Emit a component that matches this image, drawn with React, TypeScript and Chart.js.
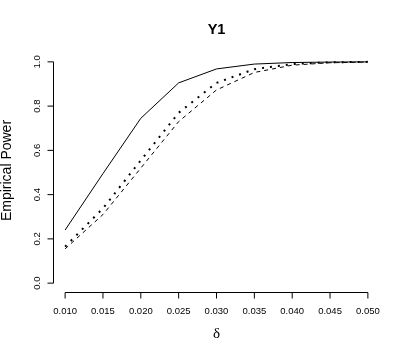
import React, { useEffect, useRef } from "react";
import { Chart, registerables } from "chart.js";

Chart.register(...registerables);

const deltas = [0.01, 0.015, 0.02, 0.025, 0.03, 0.035, 0.04, 0.045, 0.05];
const solidSeries = [0.24, 0.495, 0.745, 0.905, 0.968, 0.99, 0.997, 0.999, 1.0];
const dottedSeries = [0.165, 0.338, 0.555, 0.77, 0.905, 0.967, 0.99, 0.998, 1.0];
const dashedSeries = [0.155, 0.31, 0.52, 0.73, 0.873, 0.952, 0.985, 0.996, 0.999];
const xTicks = [0.01, 0.015, 0.02, 0.025, 0.03, 0.035, 0.04, 0.045, 0.05];
const xTickLabels = ["0.010", "0.015", "0.020", "0.025", "0.030", "0.035", "0.040", "0.045", "0.050"];
const yTicks = [0, 0.2, 0.4, 0.6, 0.8, 1.0];
const yTickLabels = ["0.0", "0.2", "0.4", "0.6", "0.8", "1.0"];
const titleText = "Y1";
const xTitle = "δ";
const yTitle = "Empirical Power";

const SANS = '"Liberation Sans", Arial, Helvetica, sans-serif';

const axesPlugin = {
  id: "rAxes",
  afterDraw(chart: any) {
    const ctx = chart.ctx as CanvasRenderingContext2D;
    const xs = chart.scales.x;
    const ys = chart.scales.y;
    const area = chart.chartArea;
    ctx.save();
    ctx.strokeStyle = "#000";
    ctx.fillStyle = "#000";
    ctx.lineWidth = 1;
    const tick = 6;
    // x axis
    const ax = Math.round(area.bottom) + 0.5;
    const x0 = xs.getPixelForValue(xTicks[0]);
    const x1 = xs.getPixelForValue(xTicks[xTicks.length - 1]);
    ctx.beginPath();
    ctx.moveTo(x0, ax);
    ctx.lineTo(x1, ax);
    xTicks.forEach((v) => {
      const p = xs.getPixelForValue(v);
      ctx.moveTo(p, ax);
      ctx.lineTo(p, ax + tick);
    });
    ctx.stroke();
    ctx.font = `9.5px ${SANS}`;
    ctx.textAlign = "center";
    ctx.textBaseline = "middle";
    xTicks.forEach((v, i) => {
      ctx.fillText(xTickLabels[i], xs.getPixelForValue(v), ax + 18.5);
    });
    // y axis
    const ay = Math.round(area.left) + 0.5;
    const y0 = ys.getPixelForValue(yTicks[0]);
    const y1 = ys.getPixelForValue(yTicks[yTicks.length - 1]);
    ctx.beginPath();
    ctx.moveTo(ay, y0);
    ctx.lineTo(ay, y1);
    yTicks.forEach((v) => {
      const p = ys.getPixelForValue(v);
      ctx.moveTo(ay, p);
      ctx.lineTo(ay - tick, p);
    });
    ctx.stroke();
    yTicks.forEach((v, i) => {
      ctx.save();
      ctx.translate(ay - 16, ys.getPixelForValue(v));
      ctx.rotate(-Math.PI / 2);
      ctx.fillText(yTickLabels[i], 0, 0);
      ctx.restore();
    });
    const cx = (area.left + area.right) / 2;
    const cy = (area.top + area.bottom) / 2;
    // title
    ctx.font = `bold 14.5px ${SANS}`;
    ctx.fillText(titleText, cx, 30);
    // x title
    ctx.font = `15px "Liberation Serif", "DejaVu Serif", serif`;
    ctx.fillText(xTitle, cx, 334);
    // y title
    ctx.save();
    ctx.translate(7, cy - 2);
    ctx.rotate(-Math.PI / 2);
    ctx.font = `14px ${SANS}`;
    ctx.fillText(yTitle, 0, 0);
    ctx.restore();
    ctx.restore();
  },
};

export default function App() {
  const ref = useRef<HTMLCanvasElement | null>(null);
  useEffect(() => {
    if (!ref.current) return;
    const mk = (arr: number[]) => deltas.map((d, i) => ({ x: d, y: arr[i] }));
    const chart = new Chart(ref.current, {
      type: "line",
      data: {
        datasets: [
          {
            label: "solid",
            data: mk(solidSeries),
            borderColor: "#000",
            borderWidth: 1,
            pointRadius: 0,
            tension: 0,
          },
          {
            label: "dotted",
            data: mk(dottedSeries),
            borderColor: "#000",
            borderWidth: 2,
            borderDash: [2, 6],
            pointRadius: 0,
            tension: 0,
          },
          {
            label: "dashed",
            data: mk(dashedSeries),
            borderColor: "#000",
            borderWidth: 1,
            borderDash: [4, 4],
            pointRadius: 0,
            tension: 0,
          },
        ],
      },
      options: {
        animation: false,
        responsive: false,
        devicePixelRatio: 1,
        layout: { padding: { left: 53, right: 27, top: 53, bottom: 65 } },
        plugins: { legend: { display: false }, tooltip: { enabled: false }, title: { display: false } },
        scales: {
          x: { type: "linear", display: false, min: 0.0084, max: 0.0516 },
          y: { type: "linear", display: false, min: -0.04, max: 1.04 },
        },
      },
      plugins: [axesPlugin],
    });
    return () => chart.destroy();
  }, []);
  return (
    <div style={{ position: "fixed", left: 0, top: 0, width: 407, height: 357, background: "#fff" }}>
      <canvas ref={ref} width={407} height={357} style={{ width: 407, height: 357, display: "block" }} />
    </div>
  );
}
